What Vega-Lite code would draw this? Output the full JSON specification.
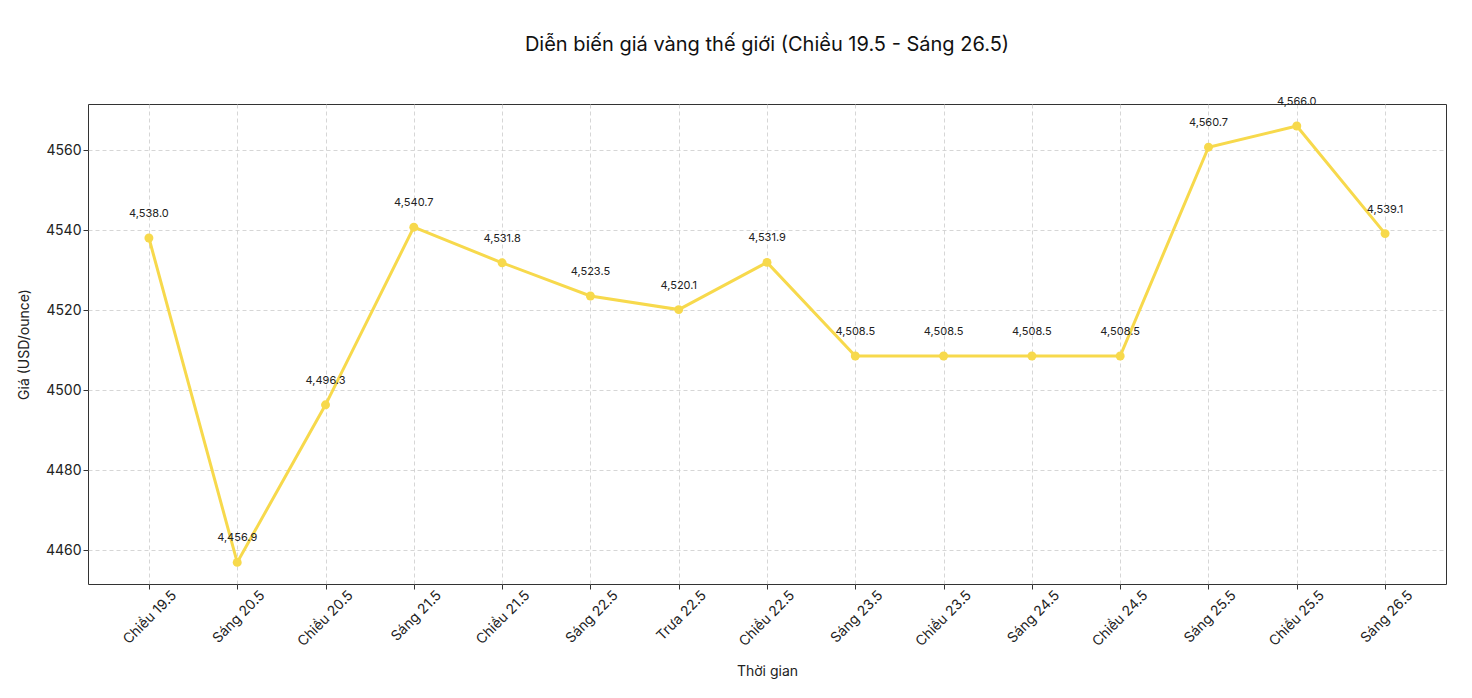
{
  "$schema": "https://vega.github.io/schema/vega-lite/v6.json",
  "autosize": "none",
  "width": 1358,
  "height": 480,
  "padding": {"left": 88, "top": 104, "right": 26, "bottom": 114},
  "background": "#ffffff",
  "title": {
    "text": "Diễn biến giá vàng thế giới (Chiều 19.5 - Sáng 26.5)",
    "font": "Inter",
    "fontSize": 20,
    "fontWeight": "normal",
    "color": "#111111",
    "anchor": "middle",
    "offset": 41
  },
  "data": {
    "values": [
      {"time": "Chiều 19.5", "price": 4538.0},
      {"time": "Sáng 20.5", "price": 4456.9},
      {"time": "Chiều 20.5", "price": 4496.3},
      {"time": "Sáng 21.5", "price": 4540.7},
      {"time": "Chiều 21.5", "price": 4531.8},
      {"time": "Sáng 22.5", "price": 4523.5},
      {"time": "Trưa 22.5", "price": 4520.1},
      {"time": "Chiều 22.5", "price": 4531.9},
      {"time": "Sáng 23.5", "price": 4508.5},
      {"time": "Chiều 23.5", "price": 4508.5},
      {"time": "Sáng 24.5", "price": 4508.5},
      {"time": "Chiều 24.5", "price": 4508.5},
      {"time": "Sáng 25.5", "price": 4560.7},
      {"time": "Chiều 25.5", "price": 4566.0},
      {"time": "Sáng 26.5", "price": 4539.1}
    ]
  },
  "encoding": {
    "x": {
      "field": "time",
      "type": "ordinal",
      "sort": null,
      "title": "Thời gian",
      "scale": {"type": "point", "padding": 0.69},
      "axis": {
        "labelAngle": -45,
        "labelAlign": "right",
        "labelBaseline": "middle",
        "labelFontSize": 14,
        "labelPadding": 4,
        "labelOffset": 25,
        "titleFontSize": 14,
        "titleFontWeight": "normal",
        "titlePadding": 16,
        "grid": true
      }
    },
    "y": {
      "field": "price",
      "type": "quantitative",
      "title": "Giá (USD/ounce)",
      "scale": {"domain": [4451.5, 4571.5], "nice": false, "zero": false},
      "axis": {
        "values": [4460, 4480, 4500, 4520, 4540, 4560],
        "format": "d",
        "labelFontSize": 14,
        "titleFontSize": 14,
        "titleFontWeight": "normal",
        "titlePadding": 14,
        "grid": true
      }
    }
  },
  "layer": [
    {
      "mark": {"type": "line", "color": "#f7d94c", "strokeWidth": 3}
    },
    {
      "mark": {"type": "point", "filled": true, "opacity": 1, "color": "#f7d94c", "size": 80}
    },
    {
      "mark": {"type": "text", "dy": -24, "fontSize": 11, "color": "#222222", "font": "Inter"},
      "encoding": {
        "text": {"field": "price", "type": "quantitative", "format": ",.1f"}
      }
    }
  ],
  "config": {
    "font": "Inter",
    "view": {"stroke": "#333333", "strokeWidth": 1},
    "axis": {
      "domain": false,
      "ticks": true,
      "tickColor": "#333333",
      "tickSize": 5,
      "labelColor": "#222222",
      "titleColor": "#222222",
      "gridColor": "#cccccc",
      "gridDash": [4, 3],
      "gridWidth": 0.8,
      "labelFont": "Inter",
      "titleFont": "Inter"
    }
  }
}
